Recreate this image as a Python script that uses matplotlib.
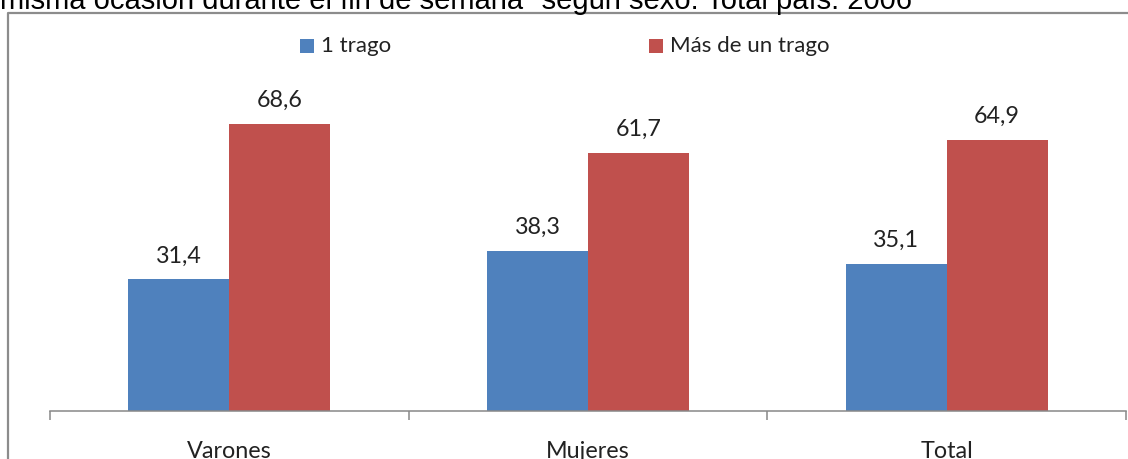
import matplotlib
matplotlib.use("Agg")
import matplotlib.pyplot as plt
from matplotlib.patches import Rectangle
from matplotlib.lines import Line2D
import numpy as np

# ---- data ----
categories = ["Varones", "Mujeres", "Total"]
series_names = ["1 trago", "Más de un trago"]
uno_trago = [31.4, 38.3, 35.1]
mas_de_uno = [68.6, 61.7, 64.9]
value_labels_1 = ["31,4", "38,3", "35,1"]
value_labels_2 = ["68,6", "61,7", "64,9"]
title_text = 'misma ocasión durante el fin de semana" según sexo. Total país. 2006'

colors = ["#4F81BD", "#C0504D"]
W, H = 1128, 459
DPI = 100
fig = plt.figure(figsize=(W / DPI, H / DPI), dpi=DPI)
fig.patch.set_facecolor("white")

lab_font = ["Lato", "DejaVu Sans"]

def fx(px):
    return px / W

def fy(py):
    return 1 - py / H

# title (clipped at top like the reference)
fig.text(0.0, fy(9), title_text, ha="left", va="baseline",
         fontsize=21.0, family=["Liberation Sans", "DejaVu Sans"], color="black")

# outer chart frame
fig.add_artist(Line2D([fx(7.5), fx(7.5), fx(1128)], [fy(459), fy(13), fy(13)],
                      transform=fig.transFigure, color="#8c8c8c", lw=1.6))

# axes
ax_left, ax_right = 50, 1126
base_y = 410.5
ymax = 80
px_per_unit = 4.175
top_y = base_y - ymax * px_per_unit
ax = fig.add_axes([fx(ax_left), fy(base_y), fx(ax_right - ax_left), (base_y - top_y) / H])

x = np.arange(len(categories))
bw = 0.282
b1 = ax.bar(x - bw / 2, uno_trago, width=bw, color=colors[0], label=series_names[0])
b2 = ax.bar(x + bw / 2, mas_de_uno, width=bw, color=colors[1], label=series_names[1])

for bars, labels in ((b1, value_labels_1), (b2, value_labels_2)):
    for rect, lab in zip(bars, labels):
        ax.annotate(lab, (rect.get_x() + rect.get_width() / 2, rect.get_height()),
                    xytext=(0, 12.2), textcoords="offset points",
                    ha="center", va="baseline", fontsize=16.8,
                    family=lab_font, color="#222222")

ax.set_xlim(-0.5, len(categories) - 0.5)
ax.set_ylim(0, ymax)
for s in ("left", "right", "top"):
    ax.spines[s].set_visible(False)
ax.spines["bottom"].set_color("#888888")
ax.spines["bottom"].set_linewidth(1.1)
ax.set_yticks([])
ax.set_xticks(np.arange(len(categories) + 1) - 0.5)
ax.set_xticklabels([])
ax.tick_params(axis="x", which="major", length=6.5, width=1.1, color="#888888", direction="out")
ax.set_xticks(x, minor=True)
ax.set_xticklabels(categories, minor=True, fontsize=16.8, family=lab_font, color="#222222")
ax.tick_params(axis="x", which="minor", length=0, pad=22)

# legend (manual, placed like the reference)
leg_items = [(300, 321, series_names[0], colors[0]), (649, 670, series_names[1], colors[1])]
for sq_x, tx, name, col in leg_items:
    fig.add_artist(Rectangle((fx(sq_x), fy(53)), fx(14), 14 / H, transform=fig.transFigure,
                             facecolor=col, edgecolor="none"))
    fig.text(fx(tx), fy(46), name, ha="left", va="center", fontsize=16,
             family=lab_font, color="#222222")

fig.savefig("out.png", dpi=DPI)
